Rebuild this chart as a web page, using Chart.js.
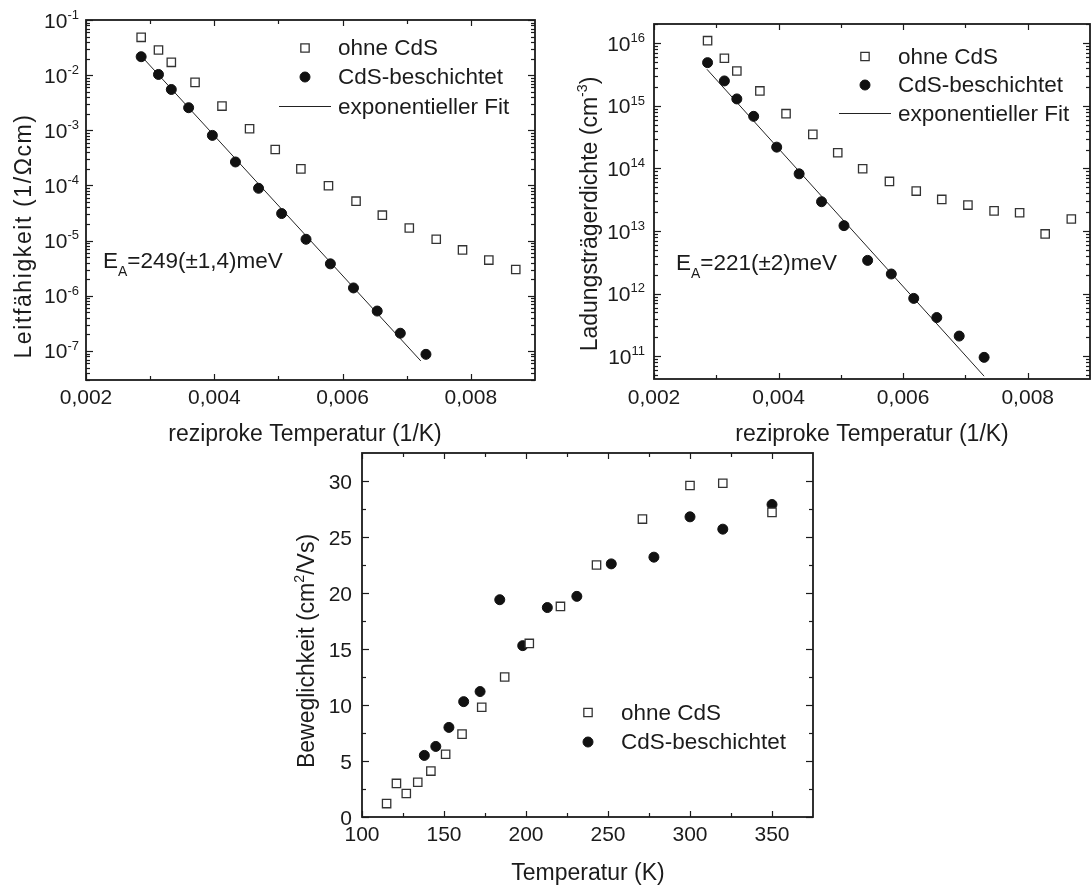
<!DOCTYPE html>
<html>
<head>
<meta charset="utf-8">
<script src="https://cdn.jsdelivr.net/npm/chart.js@4.4.1/dist/chart.umd.min.js"></script>
<style>
  body { margin: 0; background: #fff; }
  #wrap { position: relative; width: 1092px; height: 886px; overflow: hidden; }
  #wrap canvas { position: absolute; left: 0; top: 0; }
</style>
</head>
<body>
<div id="wrap">
  <canvas id="leitfaehigkeit" width="1092" height="886"></canvas>
  <canvas id="ladungstraeger" width="1092" height="886"></canvas>
  <canvas id="beweglichkeit" width="1092" height="886"></canvas>
</div>
<script>
const FONT = '"Liberation Sans", Arial, Helvetica, sans-serif';
const INK = '#1b1b1b';

// reziproke Temperatur (1/K) der Messpunkte
const invT_ohne = [0.00286, 0.00313, 0.00333, 0.00370, 0.00412, 0.00455, 0.00495, 0.00535,
                   0.00578, 0.00621, 0.00662, 0.00704, 0.00746, 0.00787, 0.00828, 0.00870];
const invT_cds  = [0.00286, 0.00313, 0.00333, 0.00360, 0.00397, 0.00433, 0.00469, 0.00505,
                   0.00543, 0.00581, 0.00617, 0.00654, 0.00690, 0.00730];

// Leitfaehigkeit (1/Ohm cm)
const sigma_ohne = [4.85e-2, 2.86e-2, 1.71e-2, 7.4e-3, 2.75e-3, 1.07e-3, 4.5e-4, 2.0e-4,
                    9.9e-5, 5.2e-5, 2.9e-5, 1.7e-5, 1.06e-5, 6.8e-6, 4.45e-6, 3.0e-6];
const sigma_cds  = [2.16e-2, 1.03e-2, 5.5e-3, 2.57e-3, 8.1e-4, 2.67e-4, 8.9e-5, 3.1e-5,
                    1.06e-5, 3.8e-6, 1.39e-6, 5.3e-7, 2.1e-7, 8.7e-8];
const sigmaFitX = [0.00285, 0.00722];
const sigmaFitY = [2.3e-2, 6.6e-8];

// Ladungstraegerdichte (cm^-3)
const n_ohne = [1.1e16, 5.75e15, 3.6e15, 1.73e15, 7.5e14, 3.5e14, 1.78e14, 9.9e13,
                6.2e13, 4.35e13, 3.2e13, 2.6e13, 2.1e13, 1.96e13, 9.0e12, 1.56e13];
const n_cds  = [4.9e15, 2.5e15, 1.29e15, 6.8e14, 2.19e14, 8.2e13, 2.94e13, 1.22e13,
                3.4e12, 2.06e12, 8.4e11, 4.15e11, 2.1e11, 9.6e10];
const nFitX = [0.00285, 0.0073];
const nFitY = [3.84e15, 4.8e10];

// Beweglichkeit (cm^2/Vs) ueber Temperatur (K)
const T_ohne  = [115, 121, 127, 134, 142, 151, 161, 173, 187, 202, 221, 243, 271, 300, 320, 350];
const mu_ohne = [1.2, 3.0, 2.1, 3.1, 4.1, 5.6, 7.4, 9.8, 12.5, 15.5, 18.8, 22.5, 26.6, 29.6, 29.8, 27.2];
const T_cds   = [138, 145, 153, 162, 172, 184, 198, 213, 231, 252, 278, 300, 320, 350];
const mu_cds  = [5.5, 6.3, 8.0, 10.3, 11.2, 19.4, 15.3, 18.7, 19.7, 22.6, 23.2, 26.8, 25.7, 27.9];

// Achsenteilung
const invTMajor = [0.002, 0.004, 0.006, 0.008];
const invTMinor = [0.003, 0.005, 0.007];
const sigmaDecades = [-7, -6, -5, -4, -3, -2, -1];
const nDecades = [11, 12, 13, 14, 15, 16];
const TMajor = [100, 150, 200, 250, 300, 350];
const TMinor = [125, 175, 225, 275, 325];
const muMajor = [0, 5, 10, 15, 20, 25, 30];
const muMinor = [2.5, 7.5, 12.5, 17.5, 22.5, 27.5];

const LBL_OHNE = 'ohne CdS';
const LBL_CDS = 'CdS-beschichtet';
const LBL_FIT = 'exponentieller Fit';

function pts(xs, ys) {
  return xs.map((x, i) => ({ x: x, y: ys[i] }));
}

function logMinors(decades, min, max) {
  const out = [];
  for (let d = decades[0] - 1; d <= decades[decades.length - 1]; d++) {
    for (let m = 2; m <= 9; m++) {
      const v = m * Math.pow(10, d);
      if (v > min && v < max) out.push(v);
    }
  }
  return out;
}

// Text mit Hoch- und Tiefstellungen: parts = [[text, 0|1|-1], ...]
function richWidth(ctx, parts, size) {
  let w = 0;
  parts.forEach(([t, k]) => {
    ctx.font = (k ? size * 0.62 : size) + 'px ' + FONT;
    w += ctx.measureText(t).width;
  });
  return w;
}

function drawRich(ctx, parts, x, y, size, align) {
  const w = richWidth(ctx, parts, size);
  let cx = align === 'center' ? x - w / 2 : align === 'right' ? x - w : x;
  ctx.textAlign = 'left';
  ctx.textBaseline = 'alphabetic';
  parts.forEach(([t, k]) => {
    const s = k ? size * 0.62 : size;
    ctx.font = s + 'px ' + FONT;
    const dy = k === 1 ? -size * 0.42 : k === -1 ? size * 0.37 : 0;
    ctx.fillText(t, cx, y + dy);
    cx += ctx.measureText(t).width;
  });
}

function fmtComma(v) {
  return v.toFixed(3).replace('.', ',');
}

// Rahmen mit innenliegenden Ticks, Beschriftung, Legende und Notizen
const originFrame = {
  id: 'originFrame',
  afterDatasetsDraw(chart, args, o) {
    const { ctx, chartArea: a } = chart;
    const xs = chart.scales.x, ys = chart.scales.y;
    ctx.save();
    ctx.strokeStyle = INK;
    ctx.fillStyle = INK;

    const seg = (x1, y1, x2, y2) => {
      ctx.beginPath(); ctx.moveTo(x1, y1); ctx.lineTo(x2, y2); ctx.stroke();
    };
    ctx.lineWidth = 1.2;
    const xTicks = (vals, len) => vals.forEach(v => {
      const p = Math.round(xs.getPixelForValue(v)) + 0.5;
      seg(p, a.bottom, p, a.bottom - len);
      seg(p, a.top, p, a.top + len);
    });
    const yTicks = (vals, len) => vals.forEach(v => {
      const p = Math.round(ys.getPixelForValue(v)) + 0.5;
      seg(a.left, p, a.left + len, p);
      seg(a.right, p, a.right - len, p);
    });
    xTicks(o.xMajor, 6);
    xTicks(o.xMinor, 4);
    yTicks(o.yMajor, 7);
    yTicks(o.yMinor, 4);

    ctx.lineWidth = 1.8;
    ctx.strokeRect(a.left, a.top, a.right - a.left, a.bottom - a.top);

    // Achsenbeschriftung
    ctx.textAlign = 'center';
    ctx.textBaseline = 'middle';
    ctx.font = '21px ' + FONT;
    o.xMajor.forEach(v => ctx.fillText(o.xLabel(v), xs.getPixelForValue(v), o.xLabelY));
    o.yMajor.forEach(v => {
      drawRich(ctx, o.yLabel(v), o.yLabelRight, ys.getPixelForValue(v) + 7.5, 21, 'right');
    });

    // Achsentitel
    o.titles.forEach(t => {
      ctx.save();
      ctx.translate(t.x, t.y);
      if (t.rot) ctx.rotate(-Math.PI / 2);
      ctx.letterSpacing = (t.spacing || 0) + 'px';
      drawRich(ctx, t.parts, 0, 8, 23, 'center');
      ctx.restore();
    });

    // Legende
    const lg = o.legend;
    lg.rows.forEach(r => {
      const ds = chart.data.datasets[r.ds];
      if (ds.showLine) {
        ctx.strokeStyle = ds.borderColor;
        ctx.lineWidth = ds.borderWidth;
        seg(lg.x - 26, r.y, lg.x + 26, r.y);
      } else {
        ctx.fillStyle = ds.backgroundColor;
        ctx.strokeStyle = ds.borderColor;
        ctx.lineWidth = ds.borderWidth;
        Chart.helpers.drawPoint(ctx, {
          pointStyle: ds.pointStyle, radius: ds.pointRadius,
          borderWidth: ds.borderWidth, rotation: 0
        }, lg.x, r.y);
      }
      ctx.fillStyle = INK;
      ctx.font = '22.5px ' + FONT;
      ctx.textAlign = 'left';
      ctx.textBaseline = 'middle';
      ctx.fillText(ds.label, lg.x + 33, r.y + 1);
    });

    (o.notes || []).forEach(n => drawRich(ctx, n.parts, n.x, n.y, 22.5, 'left'));
    ctx.restore();
  }
};

function markerSets(xo, yo, xc, yc) {
  return [
    { label: LBL_OHNE, data: pts(xo, yo), pointStyle: 'rect', pointRadius: 5.9,
      backgroundColor: '#ffffff', borderColor: '#333333', borderWidth: 1.3, showLine: false },
    { label: LBL_CDS, data: pts(xc, yc), pointStyle: 'circle', pointRadius: 5,
      backgroundColor: '#111111', borderColor: '#111111', borderWidth: 1, showLine: false }
  ];
}

function fitSet(xs, ys) {
  return { label: LBL_FIT, data: pts(xs, ys), showLine: true, pointRadius: 0,
           borderColor: '#222222', borderWidth: 1, fill: false };
}

function makeChart(id, area, datasets, xScale, yScale, frameOpts) {
  return new Chart(document.getElementById(id), {
    type: 'scatter',
    data: { datasets: datasets },
    options: {
      responsive: false,
      animation: false,
      devicePixelRatio: 1,
      events: [],
      layout: {
        autoPadding: false,
        padding: { left: area[0], top: area[1], right: 1092 - area[2], bottom: 886 - area[3] }
      },
      scales: {
        x: Object.assign({ display: false }, xScale),
        y: Object.assign({ display: false }, yScale)
      },
      plugins: {
        legend: { display: false },
        tooltip: { enabled: false },
        originFrame: frameOpts
      }
    },
    plugins: [originFrame]
  });
}

const powLabel = v => [['10', 0], [String(Math.round(Math.log10(v))), 1]];

// Leitfaehigkeit
const sigmaMin = 2.98e-8, sigmaMax = 1e-1;
makeChart('leitfaehigkeit', [86, 20, 535, 380],
  markerSets(invT_ohne, sigma_ohne, invT_cds, sigma_cds).concat([fitSet(sigmaFitX, sigmaFitY)]),
  { type: 'linear', min: 0.002, max: 0.009 },
  { type: 'logarithmic', min: sigmaMin, max: sigmaMax },
  {
    xMajor: invTMajor, xMinor: invTMinor, xLabel: fmtComma, xLabelY: 398,
    yMajor: sigmaDecades.map(d => Math.pow(10, d)),
    yMinor: logMinors(sigmaDecades, sigmaMin, sigmaMax),
    yLabel: powLabel, yLabelRight: 79,
    titles: [
      { x: 23, y: 236, rot: true, spacing: 1.6, parts: [['Leitfähigkeit (1/Ωcm)', 0]] },
      { x: 305, y: 433, rot: false, parts: [['reziproke Temperatur (1/K)', 0]] }
    ],
    legend: { x: 305, rows: [{ ds: 0, y: 48 }, { ds: 1, y: 77 }, { ds: 2, y: 106.5 }] },
    notes: [{ x: 103, y: 268, parts: [['E', 0], ['A', -1], ['=249(±1,4)meV', 0]] }]
  });

// Ladungstraegerdichte
const nMin = 4.33e10, nMax = 2.03e16;
makeChart('ladungstraeger', [654, 24, 1090, 379],
  markerSets(invT_ohne, n_ohne, invT_cds, n_cds).concat([fitSet(nFitX, nFitY)]),
  { type: 'linear', min: 0.002, max: 0.009 },
  { type: 'logarithmic', min: nMin, max: nMax },
  {
    xMajor: invTMajor, xMinor: invTMinor, xLabel: fmtComma, xLabelY: 398,
    yMajor: nDecades.map(d => Math.pow(10, d)),
    yMinor: logMinors(nDecades, nMin, nMax),
    yLabel: powLabel, yLabelRight: 645,
    titles: [
      { x: 589, y: 214, rot: true, parts: [['Ladungsträgerdichte (cm', 0], ['-3', 1], [')', 0]] },
      { x: 872, y: 433, rot: false, parts: [['reziproke Temperatur (1/K)', 0]] }
    ],
    legend: { x: 865, rows: [{ ds: 0, y: 56.5 }, { ds: 1, y: 85 }, { ds: 2, y: 113.5 }] },
    notes: [{ x: 676, y: 270, parts: [['E', 0], ['A', -1], ['=221(±2)meV', 0]] }]
  });

// Beweglichkeit
makeChart('beweglichkeit', [362, 453, 813, 817],
  markerSets(T_ohne, mu_ohne, T_cds, mu_cds),
  { type: 'linear', min: 100, max: 375 },
  { type: 'linear', min: 0, max: 32.5 },
  {
    xMajor: TMajor, xMinor: TMinor, xLabel: v => String(v), xLabelY: 835,
    yMajor: muMajor, yMinor: muMinor,
    yLabel: v => [[String(v), 0]], yLabelRight: 352,
    titles: [
      { x: 306, y: 651, rot: true, parts: [['Beweglichkeit (cm', 0], ['2', 1], ['/Vs)', 0]] },
      { x: 588, y: 872, rot: false, parts: [['Temperatur (K)', 0]] }
    ],
    legend: { x: 588, rows: [{ ds: 0, y: 712.5 }, { ds: 1, y: 742 }] }
  });
</script>
</body>
</html>
